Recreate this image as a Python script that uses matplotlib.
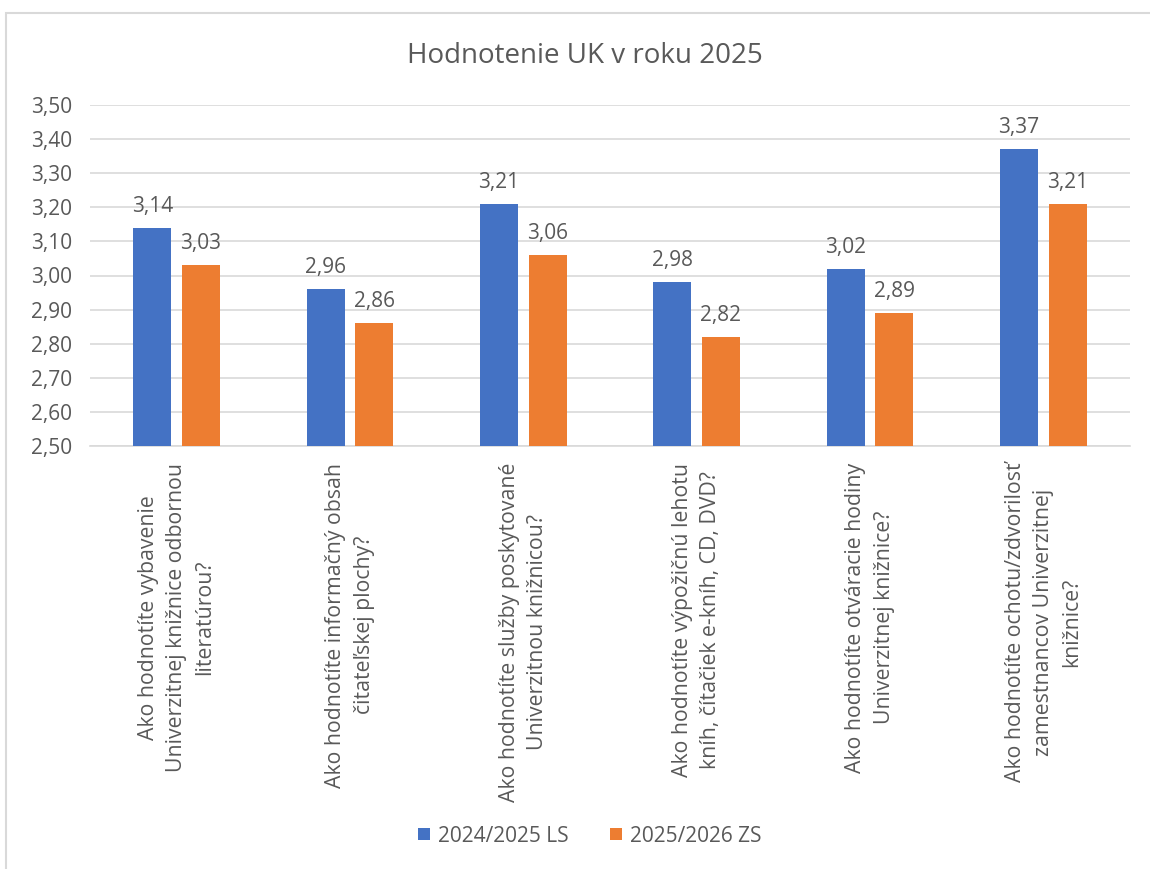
import matplotlib
matplotlib.use("Agg")
import matplotlib.pyplot as plt
import numpy as np
from matplotlib.patches import Rectangle

plt.rcParams["font.family"] = ["Open Sans", "DejaVu Sans"]

CATEGORIES = [
    "Ako hodnotíte vybavenie\nUniverzitnej knižnice odbornou\nliteratúrou?",
    "Ako hodnotíte informačný obsah\nčitateľskej plochy?",
    "Ako hodnotíte služby poskytované\nUniverzitnou knižnicou?",
    "Ako hodnotíte výpožičnú lehotu\nkníh, čítačiek e-kníh, CD, DVD?",
    "Ako hodnotíte otváracie hodiny\nUniverzitnej knižnice?",
    "Ako hodnotíte ochotu/zdvorilosť\nzamestnancov Univerzitnej\nknižnice?",
]
SERIES = ["2024/2025 LS", "2025/2026 ZS"]
LS_2024 = [3.14, 2.96, 3.21, 2.98, 3.02, 3.37]
ZS_2025 = [3.03, 2.86, 3.06, 2.82, 2.89, 3.21]
YTICKS = [2.5, 2.6, 2.7, 2.8, 2.9, 3.0, 3.1, 3.2, 3.3, 3.4, 3.5]

BLUE = "#4472C4"
ORANGE = "#ED7D31"
TXT = "#595959"
GRID = "#D9D9D9"

fig = plt.figure(figsize=(11.5, 8.69), dpi=100)
fig.patches.append(Rectangle((6 / 1150, -0.1), 1.2, 1 - 13 / 869 + 0.1,
                             transform=fig.transFigure, fill=False,
                             edgecolor="#D9D9D9", lw=1.5))
ax = fig.add_axes([90 / 1150, 1 - 446 / 869, 1040 / 1150, 341 / 869])

x = np.arange(len(CATEGORIES))
w = 0.22
b1 = ax.bar(x - 0.03 - w / 2, LS_2024, w, color=BLUE, label=SERIES[0], zorder=3)
b2 = ax.bar(x + 0.03 + w / 2, ZS_2025, w, color=ORANGE, label=SERIES[1], zorder=3)
for bars, vals in ((b1, LS_2024), (b2, ZS_2025)):
    for r, v in zip(bars, vals):
        ax.annotate(f"{v:.2f}".replace(".", ","), (r.get_x() + r.get_width() / 2, v),
                    xytext=(0, 8), textcoords="offset points",
                    ha="center", va="bottom", fontsize=15, color=TXT)

ax.set_xlim(-0.5, len(CATEGORIES) - 0.5)
ax.set_ylim(2.5, 3.5)
ax.set_yticks(YTICKS)
ax.set_yticklabels([f"{t:.2f}".replace(".", ",") for t in YTICKS], fontsize=15, color=TXT)
ax.yaxis.grid(True, color=GRID, lw=1.2, zorder=0)
ax.set_xticks(x)
ax.set_xticklabels(CATEGORIES, rotation=90, ha="center", va="top",
                   multialignment="center", fontsize=15.3, color=TXT, linespacing=1.45)
ax.tick_params(axis="y", length=0, pad=13)
ax.tick_params(axis="x", length=0, pad=12)
for s in ("top", "right", "left"):
    ax.spines[s].set_visible(False)
ax.spines["bottom"].set_color(GRID)
ax.spines["bottom"].set_linewidth(1.2)

fig.text(585 / 1150, 1 - 56 / 869, "Hodnotenie UK v roku 2025", ha="center", va="center",
         fontsize=20, color=TXT)
fig.legend(handles=[b1, b2], labels=SERIES, loc="center", ncol=2,
           bbox_to_anchor=(590 / 1150, 1 - 836 / 869), frameon=False,
           fontsize=15, handlelength=0.55, handleheight=0.55, columnspacing=2.0,
           handletextpad=0.4, labelcolor=TXT)

fig.savefig("out.png", dpi=100)
